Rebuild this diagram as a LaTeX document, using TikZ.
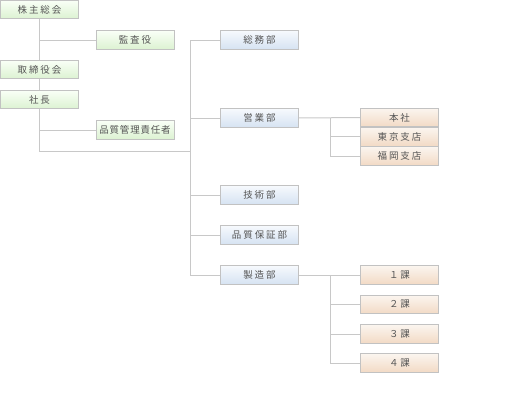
\documentclass[tikz,border=0pt]{standalone}
\usepackage{fontspec}
\setmainfont{Noto Sans CJK JP}[LetterSpace=20]
\newfontfamily\tightjp{Noto Sans CJK JP}[LetterSpace=8]
\usetikzlibrary{positioning}

\definecolor{linegray}{HTML}{C8C8C8}
\definecolor{boxgray}{HTML}{C2C2C2}
\definecolor{txtgray}{HTML}{555555}
\definecolor{grntop}{HTML}{F9FFF6}
\definecolor{grnbot}{HTML}{DCF2D2}
\definecolor{blutop}{HTML}{F6F9FD}
\definecolor{blubot}{HTML}{D6E3F2}
\definecolor{orgtop}{HTML}{FBF5EF}
\definecolor{orgbot}{HTML}{F2DAC5}

\begin{document}
\begin{tikzpicture}[x=1pt, y=-1pt,
    box/.style={draw=boxgray, line width=0.8pt, rectangle, minimum width=78pt,
        minimum height=18.5pt, inner sep=0pt, text=txtgray, font=\fontsize{9.5}{10}\selectfont},
    topbox/.style={box, top color=grntop, bottom color=grnbot},
    deptbox/.style={box, top color=blutop, bottom color=blubot},
    subbox/.style={box, top color=orgtop, bottom color=orgbot},
    link/.style={draw=linegray, line width=1pt}]
\useasboundingbox (0,0) rectangle (510,400);

\coordinate (trunk) at (190,151);
\coordinate (eibr) at (330,118);
\coordinate (seibr) at (330,275);

% Top management
\node[topbox] (kabu) at (39.5,9.5) {株主総会};
\node[topbox] (kansa) at (135,40) {監査役};
\node[topbox] (tori) at (39.5,69.5) {取締役会};
\node[topbox] (shacho) at (39.5,99.5) {社長};
\node[topbox, font=\fontsize{9.5}{10}\tightjp] (hinkan) at (135,130) {品質管理責任者};

% Departments
\node[deptbox] (soumu) at (259.5,40) {総務部};
\node[deptbox] (eigyo) at (259.5,118) {営業部};
\node[deptbox] (gijutsu) at (259.5,195) {技術部};
\node[deptbox] (hosho) at (259.5,235) {品質保証部};
\node[deptbox] (seizo) at (259.5,275) {製造部};

% Sales offices
\node[subbox] (honsha) at (399.5,117.5) {本社};
\node[subbox, below=0pt of honsha] (tokyo) {東京支店};
\node[subbox, below=0pt of tokyo] (fukuoka) {福岡支店};

% Manufacturing sections
\node[subbox] (ka1) at (399.5,275) {１課};
\node[subbox] (ka2) at (399.5,304.5) {２課};
\node[subbox] (ka3) at (399.5,334) {３課};
\node[subbox] (ka4) at (399.5,363) {４課};

% Lines
\path[link] (kabu) -- (tori);
\path[link] (tori) -- (shacho);
\path[link] (shacho) |- (trunk);
\path[link] (kabu.south |- kansa.west) -- (kansa);
\path[link] (shacho.south |- hinkan.west) -- (hinkan);
\path[link] (trunk |- soumu.west) -- (trunk |- seizo.west);
\foreach \d in {soumu, eigyo, gijutsu, hosho, seizo} {
    \path[link] (trunk |- \d.west) -- (\d);
}
\path[link] (eigyo) -- (honsha);
\path[link] (eibr) |- (fukuoka);
\foreach \s in {tokyo, fukuoka} {
    \path[link] (eibr |- \s.west) -- (\s);
}
\path[link] (seizo) -- (ka1);
\path[link] (seibr) |- (ka4);
\foreach \s in {ka2, ka3, ka4} {
    \path[link] (seibr |- \s.west) -- (\s);
}
\end{tikzpicture}
\end{document}
